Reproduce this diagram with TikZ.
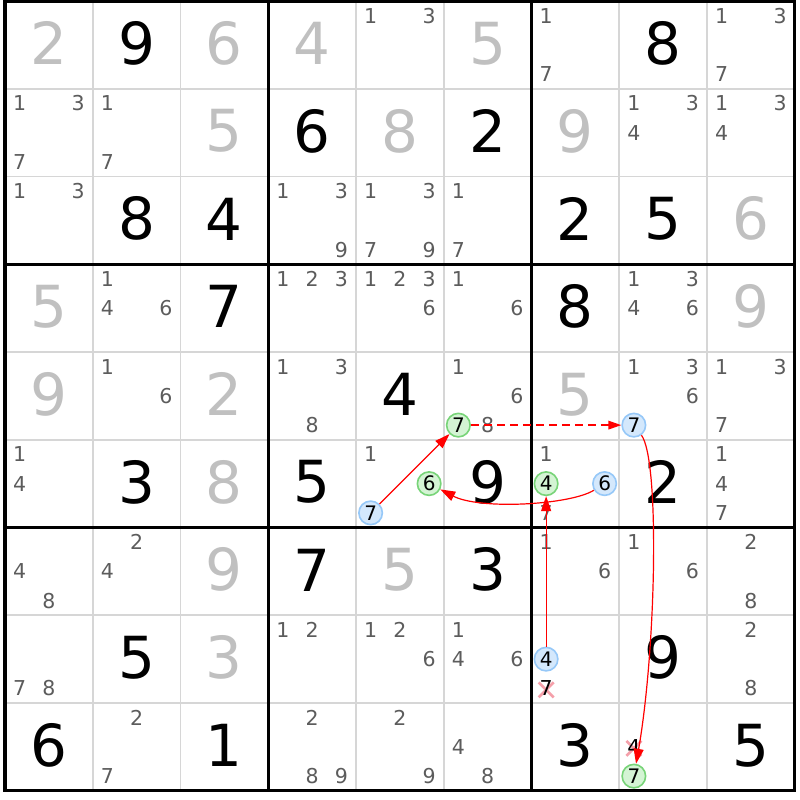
\documentclass[tikz,border=0pt]{standalone}
\usepackage{fontspec}
\setmainfont{DejaVu Sans}
\usetikzlibrary{arrows.meta}
\definecolor{solvedgray}{RGB}{192,192,192}
\definecolor{candgray}{RGB}{92,92,92}
\definecolor{thingray}{RGB}{214,214,214}
\definecolor{bluefill}{RGB}{212,232,252}
\definecolor{bluedraw}{RGB}{150,200,248}
\definecolor{greenfill}{RGB}{212,244,212}
\definecolor{greendraw}{RGB}{120,212,120}
\definecolor{xpink}{RGB}{245,160,170}
\definecolor{arrred}{RGB}{255,0,0}
\newcommand\SZ{87.75}
\newcommand\bigd[4]{%
  \pgfmathsetmacro\myx{5+(#2-0.5)*\SZ}%
  \pgfmathsetmacro\myy{800-(1+(#1-0.5)*\SZ)+1.5}%
  \node[bigdig,text=#4] (v#1#2) at (\myx,\myy) {#3};}
\newcommand\cdg[4]{%
  \pgfmathtruncatemacro\msc{mod(#3-1,3)}%
  \pgfmathtruncatemacro\msr{div(#3-1,3)}%
  \pgfmathsetmacro\myx{5+(#2-1)*\SZ+(2*\msc+1)*\SZ/6}%
  \pgfmathsetmacro\myy{800-(1+(#1-1)*\SZ+(2*\msr+1)*\SZ/6)}%
  \node[#4] (k#1#2#3) at (\myx,\myy) {#3};}
\newcommand\cands[3]{\foreach \dd in {#3}{\cdg{#1}{#2}{\dd}{cand}}}
\newcommand\elim[3]{%
  \pgfmathtruncatemacro\msc{mod(#3-1,3)}%
  \pgfmathtruncatemacro\msr{div(#3-1,3)}%
  \pgfmathsetmacro\myx{5+(#2-1)*\SZ+(2*\msc+1)*\SZ/6}%
  \pgfmathsetmacro\myy{800-(1+(#1-1)*\SZ+(2*\msr+1)*\SZ/6)-1.5}%
  \draw[xm] (\myx-7.5,\myy-7.5) -- (\myx+7.5,\myy+7.5) (\myx-7.5,\myy+7.5) -- (\myx+7.5,\myy-7.5);
  \cdg{#1}{#2}{#3}{elimtxt}}
\begin{document}
\begin{tikzpicture}[x=1pt,y=1pt,
  bigdig/.style={inner sep=0pt,font=\fontsize{58}{58}\selectfont},
  cand/.style={inner sep=0pt,text=candgray,font=\fontsize{20.5}{20.5}\selectfont},
  elimtxt/.style={inner sep=0pt,text=black,font=\fontsize{20.5}{20.5}\selectfont},
  bcirc/.style={circle,draw=bluedraw,fill=bluefill,line width=1.6pt,minimum size=23.5pt,inner sep=0pt,text=black,font=\fontsize{20}{20}\selectfont},
  gcirc/.style={circle,draw=greendraw,fill=greenfill,line width=1.6pt,minimum size=23.5pt,inner sep=0pt,text=black,font=\fontsize{20}{20}\selectfont},
  xm/.style={draw=xpink,line width=2.6pt},
  arr/.style={draw=arrred,line width=1.2pt,-{Triangle[length=15pt,width=10pt]}},
  dasharr/.style={arr,line width=1.8pt,dash pattern=on 8pt off 5pt,-{Triangle[length=13pt,width=8.5pt]}},
  thinline/.style={draw=thingray,line width=1.6pt},
  thickline/.style={draw=black,line width=3.2pt}]
\fill[white] (0,0) rectangle (800,800);
\useasboundingbox (0,0) rectangle (800,800);
% grid
\foreach \i in {1,2,4,5,7,8}{
  \draw[thinline] ({5+\i*\SZ},799) -- ({5+\i*\SZ},9.25);
  \draw[thinline] (5,{799-\i*\SZ}) -- (794.75,{799-\i*\SZ});
}
\foreach \i in {0,3,6,9}{
  \draw[thickline] ({5+\i*\SZ},800.5) -- ({5+\i*\SZ},7.6);
  \draw[thickline] (3.4,{799-\i*\SZ}) -- (796.35,{799-\i*\SZ});
}
% given (black) and solved (gray) digits
\bigd{1}{1}{2}{solvedgray}\bigd{1}{2}{9}{black}\bigd{1}{3}{6}{solvedgray}\bigd{1}{4}{4}{solvedgray}\bigd{1}{6}{5}{solvedgray}\bigd{1}{8}{8}{black}
\bigd{2}{3}{5}{solvedgray}\bigd{2}{4}{6}{black}\bigd{2}{5}{8}{solvedgray}\bigd{2}{6}{2}{black}\bigd{2}{7}{9}{solvedgray}
\bigd{3}{2}{8}{black}\bigd{3}{3}{4}{black}\bigd{3}{7}{2}{black}\bigd{3}{8}{5}{black}\bigd{3}{9}{6}{solvedgray}
\bigd{4}{1}{5}{solvedgray}\bigd{4}{3}{7}{black}\bigd{4}{7}{8}{black}\bigd{4}{9}{9}{solvedgray}
\bigd{5}{1}{9}{solvedgray}\bigd{5}{3}{2}{solvedgray}\bigd{5}{5}{4}{black}\bigd{5}{7}{5}{solvedgray}
\bigd{6}{2}{3}{black}\bigd{6}{3}{8}{solvedgray}\bigd{6}{4}{5}{black}\bigd{6}{6}{9}{black}\bigd{6}{8}{2}{black}
\bigd{7}{3}{9}{solvedgray}\bigd{7}{4}{7}{black}\bigd{7}{5}{5}{solvedgray}\bigd{7}{6}{3}{black}
\bigd{8}{2}{5}{black}\bigd{8}{3}{3}{solvedgray}\bigd{8}{8}{9}{black}
\bigd{9}{1}{6}{black}\bigd{9}{3}{1}{black}\bigd{9}{7}{3}{black}\bigd{9}{9}{5}{black}
% candidates
\cands{1}{5}{1,3}\cands{1}{7}{1,7}\cands{1}{9}{1,3,7}
\cands{2}{1}{1,3,7}\cands{2}{2}{1,7}\cands{2}{8}{1,3,4}\cands{2}{9}{1,3,4}
\cands{3}{1}{1,3}\cands{3}{4}{1,3,9}\cands{3}{5}{1,3,7,9}\cands{3}{6}{1,7}
\cands{4}{2}{1,4,6}\cands{4}{4}{1,2,3}\cands{4}{5}{1,2,3,6}\cands{4}{6}{1,6}\cands{4}{8}{1,3,4,6}
\cands{5}{2}{1,6}\cands{5}{4}{1,3,8}\cands{5}{6}{1,6,8}\cands{5}{8}{1,3,6}\cands{5}{9}{1,3,7}
\cands{6}{1}{1,4}\cands{6}{5}{1}\cands{6}{7}{1,7}\cands{6}{9}{1,4,7}
\cands{7}{1}{4,8}\cands{7}{2}{2,4}\cands{7}{7}{1,6}\cands{7}{8}{1,6}\cands{7}{9}{2,8}
\cands{8}{1}{7,8}\cands{8}{4}{1,2}\cands{8}{5}{1,2,6}\cands{8}{6}{1,4,6}\cands{8}{9}{2,8}
\cands{9}{2}{2,7}\cands{9}{4}{2,8,9}\cands{9}{5}{2,9}\cands{9}{6}{4,8}
% highlighted candidates
\cdg{5}{6}{7}{gcirc}
\cdg{5}{8}{7}{bcirc}
\cdg{6}{5}{6}{gcirc}
\cdg{6}{5}{7}{bcirc}
\cdg{6}{7}{4}{gcirc}
\cdg{6}{7}{6}{bcirc}
\cdg{8}{7}{4}{bcirc}
\cdg{9}{8}{7}{gcirc}
% eliminations
\elim{8}{7}{7}
\elim{9}{8}{4}
% chain
\draw[arr] (k657) -- (k567);
\draw[dasharr] (k567) -- (k587);
\draw[arr] (k587) .. controls (660,340) and (656,150) .. (k987);
\draw[arr] (k676) .. controls (570,295) and (480,290) .. (k656);
\draw[arr] (k874) -- (k674);
\end{tikzpicture}
\end{document}
